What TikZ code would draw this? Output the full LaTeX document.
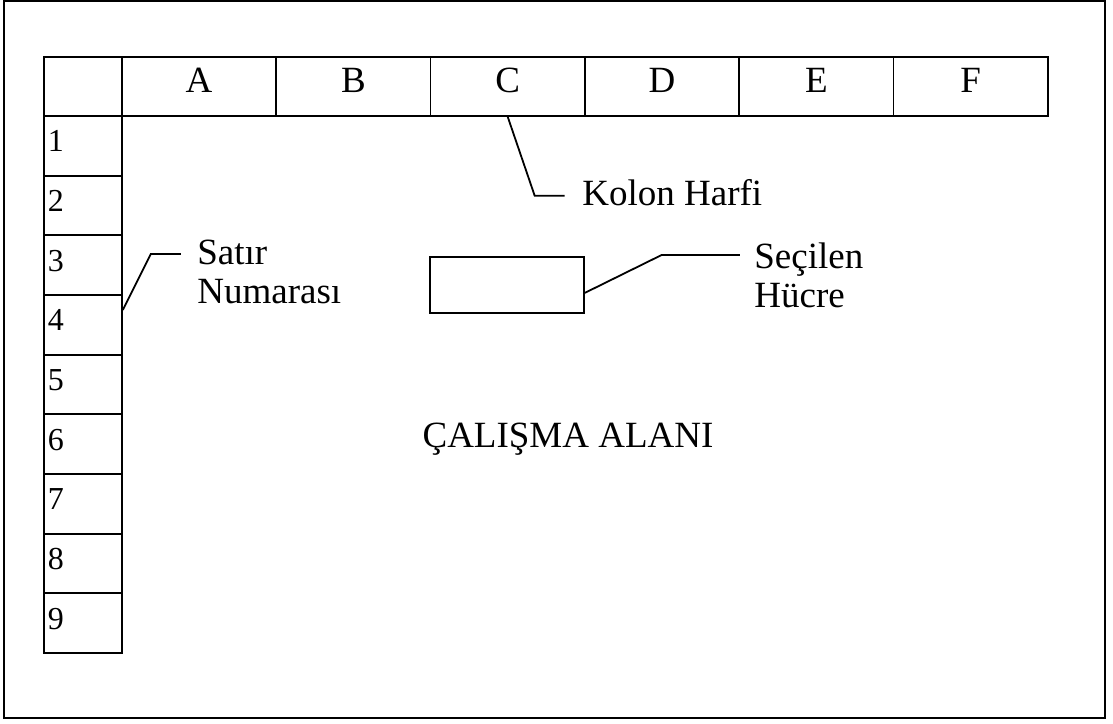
\documentclass[tikz,border=0pt]{standalone}
\usepackage{fontspec}
\setmainfont{Liberation Serif}
\usetikzlibrary{positioning}

\begin{document}
\begin{tikzpicture}[x=0.5pt,y=-0.5pt,
  cellbox/.style={draw,line width=0.9pt,minimum width=77.15pt,minimum height=29.5pt,inner sep=0pt,anchor=north west,
    text height=12pt,text depth=6pt,font=\fontsize{18.5}{20}\selectfont},
  rowbox/.style={draw,line width=0.9pt,minimum width=39pt,minimum height=29.85pt,inner xsep=1.5pt,inner ysep=0pt,anchor=north west,
    text width=35pt,align=left,text height=11pt,text depth=5pt,font=\fontsize{16}{18}\selectfont},
  leader/.style={line width=0.9pt},
  lbl/.style={inner sep=0pt,align=left,font=\fontsize{18.5}{19.5}\selectfont}]
\useasboundingbox (0,0) rectangle (1113,723);
\draw[line width=1pt] (4,1) rectangle (1105,718);
% baslik satiri
\node[cellbox,minimum width=39pt] (kose) at (43,56) {};
\foreach \c [count=\i] in {A,B,C,D,E,F}
  \node[cellbox] (kol\c) at ({121+(\i-1)*154.33},56) {\c};
% satir numaralari
\foreach \r in {1,...,9}
  \node[rowbox] (satir\r) at (43,{115+(\r-1)*59.67}) {\r};
\node[draw,line width=0.9pt,minimum width=77pt,minimum height=28pt,anchor=north west] (secili) at (429,256) {};
\node[lbl,anchor=base west] (kolon) at (582,205) {Kolon Harfi};
\node[lbl,anchor=north west] (satirno) at (197,240) {Satır\\Numarası};
\node[lbl,anchor=north west] (hucre) at (754,242) {Seçilen\\Hücre};
\node[lbl,anchor=base] (alan) at (568,447) {ÇALIŞMA ALANI};
\draw[leader] (kolC.south) -- ++(27,79) -- ++(30,0);
\draw[leader] ([yshift=-8pt]satir4.north east) -- ++(28,-56) -- ++(30,0);
\draw[leader] ([yshift=-4pt]secili.east) -- ++(77,-38) -- ++(78,0);
\end{tikzpicture}
\end{document}
